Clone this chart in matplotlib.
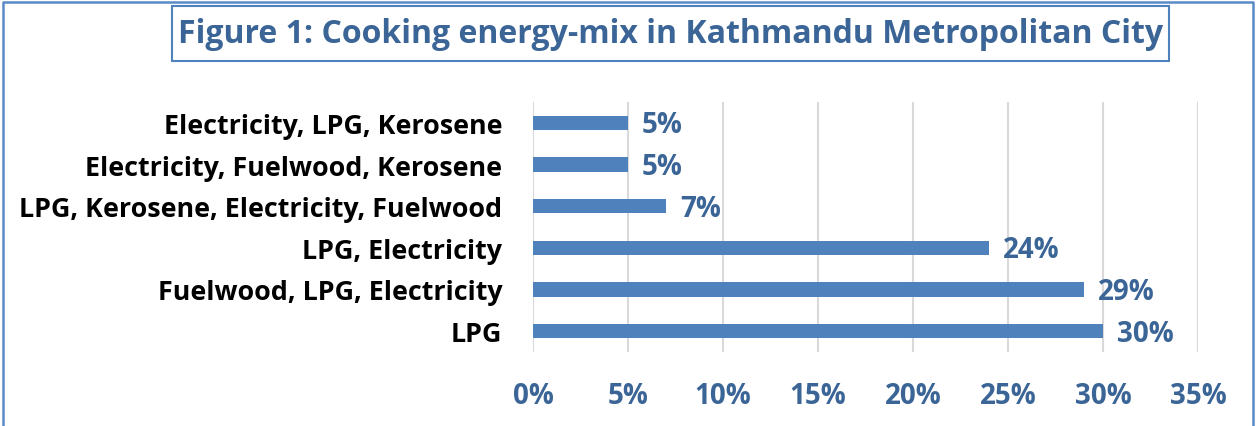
import matplotlib
matplotlib.use("Agg")
import matplotlib.pyplot as plt
from matplotlib.lines import Line2D
from matplotlib.patches import Rectangle
from matplotlib.ticker import FuncFormatter

categories = [
    "LPG",
    "Fuelwood, LPG, Electricity",
    "LPG, Electricity",
    "LPG, Kerosene, Electricity, Fuelwood",
    "Electricity, Fuelwood, Kerosene",
    "Electricity, LPG, Kerosene",
]
shares = [30, 29, 24, 7, 5, 5]
x_ticks = [0, 5, 10, 15, 20, 25, 30, 35]
title = "Figure 1: Cooking energy-mix in Kathmandu Metropolitan City"

BAR = "#4F81BD"
TEXT_BLUE = "#3A6596"
GRID = "#D9D9D9"
FONT = "Open Sans"

W, H = 1256, 427
fig = plt.figure(figsize=(W / 100, H / 100), dpi=100)

# plot area in pixel coordinates
left, right, top, bottom = 533, 1198, 103, 353
ax = fig.add_axes([left / W, 1 - bottom / H, (right - left) / W, (bottom - top) / H])

y = list(range(len(categories)))
ax.barh(y, shares, height=0.34, color=BAR, zorder=3)
ax.set_xlim(0, 35)
ax.set_ylim(-0.5, len(categories) - 0.5)
ax.set_xticks(x_ticks)
ax.xaxis.set_major_formatter(FuncFormatter(lambda v, _: f"{v:.0f}%"))
ax.set_yticks(y)
ax.set_yticklabels(categories)

for yi, v in zip(y, shares):
    ax.annotate(f"{v}%", (v, yi), xytext=(10, -1.5), textcoords="offset points",
                ha="left", va="center", fontsize=20, fontweight="bold",
                color=TEXT_BLUE, family=FONT)

ax.grid(axis="x", color=GRID, linewidth=1.5, zorder=0)
ax.grid(axis="y", visible=False)
for s in ax.spines.values():
    s.set_visible(False)
ax.tick_params(axis="both", length=0)
ax.tick_params(axis="x", pad=21)
ax.tick_params(axis="y", pad=22)
for lab in ax.get_xticklabels():
    lab.set_fontsize(20)
    lab.set_fontweight("bold")
    lab.set_color(TEXT_BLUE)
    lab.set_family(FONT)
for lab in ax.get_yticklabels():
    lab.set_fontsize(19.4)
    lab.set_fontweight("bold")
    lab.set_color("black")
    lab.set_family(FONT)

# outer frame (left, top, right edges)
fx0, fx1, fy = 2.5 / W, (W - 3.5) / W, 1 - 2.5 / H
fig.lines.append(Line2D([fx0, fx0, fx1, fx1], [0, fy, fy, 0],
                        transform=fig.transFigure, color="#5B8AC6", linewidth=1.8))

# boxed title
bx0, bx1, by0, by1 = 172, 1169, 7, 62
fig.patches.append(Rectangle((bx0 / W, 1 - by1 / H), (bx1 - bx0) / W, (by1 - by0) / H,
                             transform=fig.transFigure, fill=False,
                             edgecolor="#4F81BD", linewidth=1.5))
fig.text((bx0 + bx1) / 2 / W, 1 - (by0 + by1) / 2 / H, title,
         ha="center", va="center", fontsize=23, fontweight="bold",
         color=TEXT_BLUE, family=FONT)

fig.savefig("out.png", dpi=100)
